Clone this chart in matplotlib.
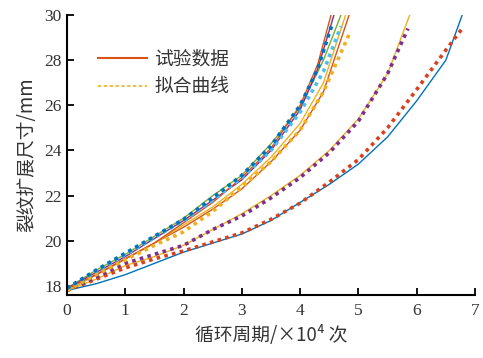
import matplotlib
matplotlib.use("Agg")
import matplotlib.pyplot as plt
import numpy as np

# ---- data (x in 10^4 cycles, y in mm) ----
# Experimental curves (solid)
exp_red_x = [0, 0.5, 1, 1.5, 2, 2.5, 3, 3.5, 4, 4.3, 4.53]
exp_red_y = [17.9, 18.5, 19.2, 19.9, 20.8, 21.7, 22.8, 24.1, 26.0, 27.8, 30.0]
exp_green_x = [0, 0.5, 1, 1.5, 2, 2.5, 3, 3.5, 4, 4.4, 4.7]
exp_green_y = [17.9, 18.7, 19.4, 20.2, 21.0, 22.0, 22.9, 24.3, 25.9, 28.0, 30.0]
exp_purple_x = [0, 0.5, 1, 1.5, 2, 2.5, 3, 3.5, 4, 4.3, 4.58]
exp_purple_y = [17.9, 18.6, 19.3, 20.1, 20.9, 21.8, 22.7, 24.0, 25.8, 27.6, 30.0]
exp_orange_x = [0, 0.5, 1, 1.5, 2, 2.5, 3, 3.5, 4, 4.4, 4.84]
exp_orange_y = [17.8, 18.5, 19.2, 19.9, 20.6, 21.4, 22.3, 23.5, 24.9, 26.6, 30.0]
exp_yellowA_x = [0, 0.5, 1, 1.5, 2, 2.5, 3, 3.5, 4, 4.4, 4.78]
exp_yellowA_y = [17.8, 18.5, 19.2, 19.9, 20.7, 21.5, 22.5, 23.7, 25.2, 27.0, 30.0]
exp_yellowB_x = [0, 0.5, 1, 1.5, 2, 2.5, 3, 3.5, 4, 4.5, 5, 5.5, 5.88]
exp_yellowB_y = [17.8, 18.3, 18.9, 19.3, 19.8, 20.5, 21.2, 22.0, 22.9, 24.0, 25.4, 27.4, 30.0]
exp_blue_x = [0, 0.5, 1, 1.5, 2, 2.5, 3, 3.5, 4, 4.5, 5, 5.5, 6, 6.5, 6.78]
exp_blue_y = [17.8, 18.1, 18.5, 19.0, 19.5, 19.9, 20.3, 20.9, 21.7, 22.5, 23.4, 24.6, 26.2, 28.0, 30.0]

# Fitted curves (dotted)
fit_blue_x = [0, 0.5, 1, 1.5, 2, 2.5, 3, 3.5, 4, 4.3, 4.55]
fit_blue_y = [17.9, 18.7, 19.45, 20.2, 20.95, 21.9, 22.9, 24.2, 26.0, 27.6, 29.6]
fit_cyan_x = [0, 0.5, 1, 1.5, 2, 2.5, 3, 3.5, 4, 4.4, 4.7]
fit_cyan_y = [17.9, 18.65, 19.4, 20.15, 20.9, 21.8, 22.8, 24.0, 25.7, 27.5, 29.5]
fit_yellow_x = [0, 0.5, 1, 1.5, 2, 2.5, 3, 3.5, 4, 4.4, 4.85]
fit_yellow_y = [17.8, 18.5, 19.15, 19.8, 20.4, 21.3, 22.4, 23.5, 24.9, 26.6, 29.2]
fit_purple_x = [0, 0.5, 1, 1.5, 2, 2.5, 3, 3.5, 4, 4.5, 5, 5.5, 5.85]
fit_purple_y = [17.8, 18.4, 19.0, 19.4, 19.8, 20.5, 21.1, 21.9, 22.8, 23.9, 25.3, 27.4, 29.4]
fit_red_x = [0, 0.5, 1, 1.5, 2, 2.5, 3, 3.5, 4, 4.5, 5, 5.5, 6, 6.5, 6.78]
fit_red_y = [17.8, 18.3, 18.8, 19.2, 19.55, 19.95, 20.35, 20.95, 21.67, 22.6, 23.6, 25.0, 26.7, 28.45, 29.4]

xticks = [0, 1, 2, 3, 4, 5, 6, 7]
yticks = [18, 20, 22, 24, 26, 28, 30]
xlabel = "循环周期/×10⁴ 次"
ylabel = "裂纹扩展尺寸/mm"
legend_labels = ["试验数据", "拟合曲线"]

C_BLUE = "#0072BD"; C_ORANGE = "#D95319"; C_YELLOW = "#EDB120"
C_PURPLE = "#7E2F8E"; C_GREEN = "#77AC30"; C_CYAN = "#4DBEEE"; C_RED = "#D9411E"

cjk = ["Noto Sans CJK SC", "DejaVu Sans"]
serif = ["Liberation Serif", "DejaVu Serif"]
txt_color = "#333333"

fig = plt.figure(figsize=(4.83, 3.58), dpi=100)
ax = fig.add_axes([67/483, 63/358, 408/483, 280/358])

lw_s = 1.0
ax.plot(exp_blue_x, exp_blue_y, color=C_BLUE, lw=lw_s)
ax.plot(exp_yellowB_x, exp_yellowB_y, color=C_YELLOW, lw=lw_s)
ax.plot(exp_orange_x, exp_orange_y, color=C_ORANGE, lw=lw_s)
ax.plot(exp_yellowA_x, exp_yellowA_y, color=C_YELLOW, lw=lw_s)
ax.plot(exp_green_x, exp_green_y, color=C_GREEN, lw=lw_s)
ax.plot(exp_purple_x, exp_purple_y, color=C_PURPLE, lw=lw_s)
ax.plot(exp_red_x, exp_red_y, color=C_ORANGE, lw=lw_s)

lw_d = 2.6
ax.plot(fit_red_x, fit_red_y, color=C_RED, lw=lw_d, ls=(0, (1, 1.2)))
ax.plot(fit_purple_x, fit_purple_y, color=C_PURPLE, lw=lw_d, ls=(0, (1, 1.2)))
ax.plot(fit_yellow_x, fit_yellow_y, color=C_YELLOW, lw=lw_d, ls=(0, (1, 1.2)))
ax.plot(fit_cyan_x, fit_cyan_y, color=C_CYAN, lw=lw_d, ls=(0, (1, 1.2)))
ax.plot(fit_blue_x, fit_blue_y, color=C_BLUE, lw=lw_d, ls=(0, (1, 1.2)))

ax.set_xlim(0, 7)
ax.set_ylim(17.6, 30)
ax.set_xticks(xticks)
ax.set_yticks(yticks)
ax.set_xticklabels([str(v) for v in xticks], fontfamily=serif, fontsize=12.5, color=txt_color)
ax.set_yticklabels([str(v) for v in yticks], fontfamily=serif, fontsize=12.5, color=txt_color)
ax.tick_params(direction="in", length=5, width=1.3)
ax.tick_params(axis="x", pad=6)
ax.tick_params(axis="y", pad=4)
for s in ["top", "right"]:
    ax.spines[s].set_visible(False)
for s in ["left", "bottom"]:
    ax.spines[s].set_linewidth(1.5)

ax.set_xlabel(xlabel, fontfamily=cjk, fontsize=13.5, color=txt_color, labelpad=4)
ax.set_ylabel(ylabel, fontfamily=cjk, fontsize=13.5, color=txt_color, labelpad=5)

from matplotlib.lines import Line2D
h1 = Line2D([], [], color=C_ORANGE, lw=1.5)
h2 = Line2D([], [], color=C_YELLOW, lw=1.2, ls=(0, (2, 1.5)))
leg = ax.legend([h1, h2], legend_labels, loc="upper left", bbox_to_anchor=(0.035, 0.94),
                frameon=False, handlelength=2.6, handletextpad=0.4, labelspacing=0.35,
                prop={"family": cjk, "size": 13.5})
for t in leg.get_texts():
    t.set_color(txt_color)

fig.savefig("out.png", dpi=100)
